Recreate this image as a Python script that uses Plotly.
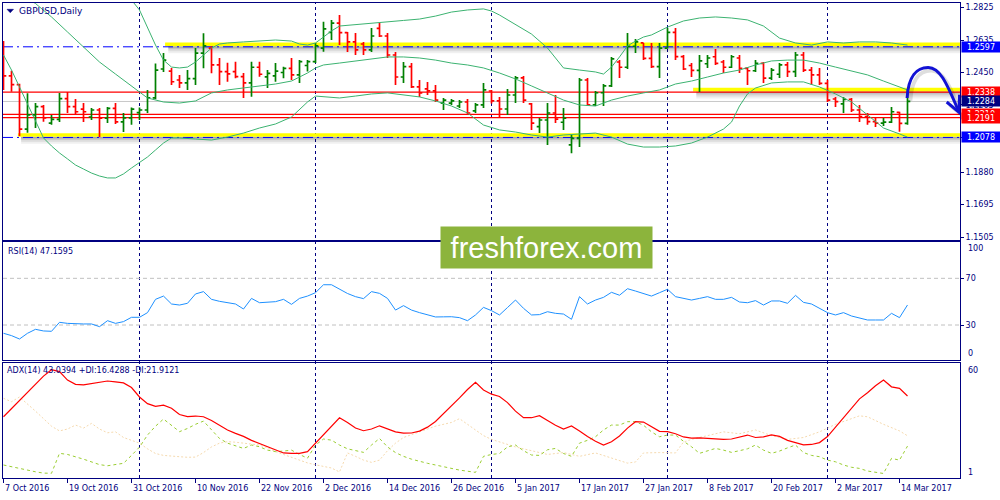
import plotly.graph_objects as go
import pandas as pd

# ---------------- data ----------------
dates = pd.bdate_range("2016-10-07", periods=114)
bars = list(range(len(dates)))

opens = [1.2615,1.2430,1.2380,1.2126,1.2207,1.2254,1.2160,1.2182,1.2300,1.2254,
 1.2240,1.2195,1.2235,1.2188,1.2245,1.2167,1.2190,1.2220,1.2235,1.2304,
 1.2470,1.2458,1.2407,1.2390,1.2415,1.2561,1.2590,1.2493,1.2455,1.2455,
 1.2426,1.2390,1.2480,1.2425,1.2430,1.2450,1.2474,1.2436,1.2490,1.2512,
 1.2590,1.2680,1.2733,1.2678,1.2625,1.2613,1.2579,1.2703,1.2659,1.2550,
 1.2424,1.2483,1.2367,1.2356,1.2345,1.2275,1.2275,1.2258,1.2281,1.2230,
 1.2264,1.2344,1.2287,1.2241,1.2321,1.2419,1.2270,1.2140,1.2178,1.2218,
 1.2165,1.2035,1.2073,1.2407,1.2264,1.2334,1.2373,1.2510,1.2480,1.2600,
 1.2619,1.2531,1.2484,1.2590,1.2680,1.2541,1.2490,1.2462,1.2500,1.2540,
 1.2510,1.2480,1.2533,1.2474,1.2460,1.2502,1.2418,1.2440,1.2493,1.2455,
 1.2550,1.2464,1.2436,1.2388,1.2298,1.2270,1.2296,1.2235,1.2197,1.2169,
 1.2160,1.2166,1.2221,1.2159]
highs = [1.2630,1.2460,1.2385,1.2331,1.2275,1.2264,1.2207,1.2332,1.2338,1.2298,
 1.2275,1.2246,1.2246,1.2252,1.2275,1.2218,1.2250,1.2250,1.2350,1.2502,
 1.2562,1.2476,1.2436,1.2464,1.2590,1.2674,1.2600,1.2533,1.2506,1.2512,
 1.2447,1.2512,1.2512,1.2464,1.2504,1.2483,1.2533,1.2521,1.2521,1.2619,
 1.2741,1.2750,1.2779,1.2682,1.2676,1.2625,1.2705,1.2733,1.2676,1.2567,
 1.2510,1.2504,1.2407,1.2396,1.2378,1.2304,1.2298,1.2292,1.2298,1.2275,
 1.2390,1.2350,1.2310,1.2355,1.2430,1.2430,1.2275,1.2189,1.2275,1.2321,
 1.2246,1.2092,1.2418,1.2418,1.2344,1.2384,1.2539,1.2521,1.2676,1.2642,
 1.2619,1.2619,1.2619,1.2705,1.2705,1.2550,1.2504,1.2550,1.2550,1.2584,
 1.2521,1.2550,1.2550,1.2481,1.2521,1.2510,1.2476,1.2504,1.2510,1.2567,
 1.2567,1.2481,1.2476,1.2407,1.2310,1.2310,1.2304,1.2264,1.2218,1.2195,
 1.2189,1.2252,1.2225,1.2350]
lows = [1.2350,1.2340,1.2086,1.2105,1.2132,1.2168,1.2150,1.2166,1.2218,1.2212,
 1.2166,1.2178,1.2080,1.2160,1.2155,1.2109,1.2150,1.2178,1.2218,1.2296,
 1.2453,1.2378,1.2361,1.2350,1.2378,1.2474,1.2445,1.2378,1.2397,1.2417,
 1.2304,1.2311,1.2426,1.2361,1.2397,1.2417,1.2407,1.2390,1.2455,1.2504,
 1.2569,1.2636,1.2607,1.2567,1.2550,1.2550,1.2567,1.2653,1.2533,1.2378,
 1.2390,1.2361,1.2310,1.2321,1.2281,1.2235,1.2264,1.2246,1.2207,1.2218,
 1.2246,1.2273,1.2195,1.2207,1.2275,1.2275,1.2121,1.2103,1.2035,1.2160,
 1.2120,1.1988,1.2023,1.2258,1.2258,1.2258,1.2367,1.2418,1.2470,1.2561,
 1.2521,1.2476,1.2418,1.2588,1.2521,1.2464,1.2424,1.2338,1.2476,1.2493,
 1.2447,1.2476,1.2447,1.2378,1.2453,1.2390,1.2407,1.2418,1.2424,1.2424,
 1.2453,1.2378,1.2378,1.2281,1.2252,1.2218,1.2224,1.2167,1.2150,1.2138,
 1.2144,1.2160,1.2111,1.2150]
closes = [1.2430,1.2380,1.2126,1.2207,1.2254,1.2190,1.2182,1.2300,1.2254,1.2225,
 1.2225,1.2235,1.2188,1.2245,1.2167,1.2190,1.2240,1.2235,1.2304,1.2464,
 1.2521,1.2397,1.2390,1.2415,1.2561,1.2602,1.2493,1.2455,1.2442,1.2426,
 1.2390,1.2480,1.2440,1.2445,1.2458,1.2474,1.2436,1.2512,1.2512,1.2602,
 1.2700,1.2733,1.2678,1.2625,1.2579,1.2579,1.2659,1.2659,1.2550,1.2424,
 1.2483,1.2367,1.2333,1.2345,1.2292,1.2292,1.2287,1.2281,1.2218,1.2264,
 1.2350,1.2287,1.2241,1.2321,1.2419,1.2292,1.2160,1.2178,1.2218,1.2183,
 1.2188,1.2073,1.2407,1.2264,1.2334,1.2373,1.2528,1.2480,1.2600,1.2625,
 1.2531,1.2484,1.2590,1.2680,1.2541,1.2470,1.2462,1.2516,1.2533,1.2502,
 1.2480,1.2540,1.2474,1.2460,1.2502,1.2418,1.2464,1.2493,1.2455,1.2550,
 1.2464,1.2436,1.2388,1.2292,1.2283,1.2296,1.2235,1.2197,1.2169,1.2160,
 1.2166,1.2225,1.2159,1.2284]

bb_up_idx = [0,4,8,12,16,17,18,19,20,21,22,23,24,25,26,27,28,30,32,34,36,37,38,39,40,41,42,
 44,46,48,50,52,54,56,58,60,61,62,63,64,65,66,67,68,69,70,72,74,75,76,77,78,79,80,81,82,83,
 85,87,89,91,93,95,97,99,101,103,105,107,109,111,113]
bb_up = [1.3150,1.3120,1.3060,1.2960,1.2865,1.2808,1.2705,1.2607,1.2521,1.2481,1.2476,1.2481,
 1.2510,1.2550,1.2590,1.2613,1.2619,1.2625,1.2630,1.2636,1.2630,1.2613,1.2607,1.2619,1.2653,
 1.2688,1.2716,1.2725,1.2730,1.2739,1.2748,1.2756,1.2773,1.2796,1.2808,1.2814,1.2802,1.2779,
 1.2751,1.2728,1.2699,1.2670,1.2630,1.2590,1.2533,1.2476,1.2464,1.2453,1.2441,1.2481,1.2539,
 1.2602,1.2630,1.2653,1.2665,1.2688,1.2710,1.2745,1.2762,1.2768,1.2762,1.2751,1.2716,1.2647,
 1.2619,1.2607,1.2625,1.2619,1.2625,1.2625,1.2619,1.2607]
bb_mid_idx = [0,2,4,6,8,10,12,14,16,18,20,22,24,26,28,30,32,34,36,38,39] + list(range(40, 113, 2)) + [113]
bb_mid = [1.2950,1.2900,1.2845,1.2768,1.2682,1.2596,1.2510,1.2441,1.2373,1.2304,1.2281,1.2275,
 1.2287,1.2333,1.2350,1.2361,1.2373,1.2384,1.2401,1.2447,1.2476,
 1.2493,1.2504,1.2516,1.2527,1.2539,1.2539,1.2533,1.2521,1.2504,1.2493,1.2476,1.2447,1.2413,
 1.2373,1.2333,1.2292,1.2264,1.2258,1.2292,1.2315,1.2333,1.2350,1.2384,1.2401,1.2424,1.2447,
 1.2464,1.2493,1.2516,1.2521,1.2521,1.2504,1.2481,1.2458,1.2436,1.2401,1.2367,1.2350]
bb_low_idx = [0,1,2,3,4,5,6,7,8,9,10,11,12,13,14,15,16,17,18,19,20,21,22,24,26,28,30,32,34,36,38,
 39,40,42,44,46,48,50,52,54,56,58,60,62,64,66,68,70,72,74,76,78,80,82,84,86,88,90,91,92,93,94,
 96,98,100,102,104,106,108,110,112,113]
bb_low = [1.2550,1.2464,1.2367,1.2270,1.2172,1.2075,1.2029,1.1989,1.1955,1.1920,1.1897,1.1874,
 1.1857,1.1846,1.1846,1.1869,1.1903,1.1932,1.1966,1.2006,1.2046,1.2075,1.2075,1.2069,1.2063,
 1.2080,1.2103,1.2132,1.2155,1.2195,1.2281,1.2315,1.2310,1.2304,1.2315,1.2327,1.2333,1.2321,
 1.2310,1.2287,1.2258,1.2218,1.2149,1.2121,1.2109,1.2092,1.2080,1.2092,1.2098,1.2103,1.2080,
 1.2040,1.2023,1.2023,1.2029,1.2046,1.2080,1.2126,1.2166,1.2258,1.2327,1.2361,1.2390,1.2396,
 1.2396,1.2367,1.2327,1.2281,1.2207,1.2132,1.2098,1.2080]

rsi = [22.9,20.9,18.0,22.9,26.3,24.9,24.6,32.3,31.4,30.9,30.9,30.9,28.6,33.7,31.4,32.9,36.6,36.6,
 40.6,52.0,54.8,48.0,47.1,48.6,56.6,58.6,52.0,50.3,49.4,48.0,43.7,52.8,49.1,49.5,50.0,52.0,47.7,
 52.8,54.8,57.7,64.5,64.5,60.5,57.0,54.3,52.6,58.6,57.1,52.8,42.8,46.6,42.8,40.6,38.8,36.9,37.0,
 37.1,36.3,33.7,38.6,45.1,42.3,38.6,45.0,51.4,44.3,38.6,38.9,41.4,40.0,39.4,34.9,54.3,48.0,51.4,
 53.7,58.0,55.5,61.1,59.1,57.1,54.8,57.7,60.6,54.3,52.6,51.4,52.8,54.3,52.0,52.0,53.7,49.7,49.1,
 50.9,47.1,50.6,50.6,48.6,55.4,49.4,48.0,44.3,40.6,38.6,40.6,37.7,35.7,34.3,34.3,34.3,40.0,36.3,
 47.1595]

adx = [32.0,36.3,40.6,45.0,49.3,53.6,57.0,56.0,51.5,49.2,48.9,49.5,50.3,51.0,50.5,50.0,47.5,42.5,
 39.0,37.5,38.2,36.5,33.2,32.1,32.4,32.0,30.0,27.5,25.0,23.2,21.6,19.5,17.8,16.2,14.3,12.8,12.6,
 12.6,13.5,18.0,22.5,27.0,31.5,29.0,26.0,24.6,25.5,27.2,25.6,24.0,23.3,23.4,24.4,26.5,29.5,33.5,
 37.5,42.0,46.5,50.3,46.2,44.0,42.8,39.5,35.0,31.5,31.5,32.6,30.0,27.5,25.5,27.1,24.5,21.5,19.0,
 17.0,18.7,21.8,26.0,29.4,29.2,26.9,24.3,24.1,23.0,21.3,20.7,20.8,20.6,20.0,20.0,20.2,21.2,22.3,
 21.0,21.3,22.4,21.6,19.5,18.5,17.1,17.3,18.3,21.5,26.5,31.5,36.5,41.5,44.8,48.5,51.5,47.9,47.1,
 43.0394]

pdi_idx = [0,2,4,5,6,7,8,10,12,13,15,16,17,18,19,20,21,22,23,24,25,26,27,28,29,30,31,32,33,34,35,
 36,37,38,39,40,41,42,43,44,45,46,47,48,49,50,51,53,55,57,59,60,61,62,63,64,65,66,67,68,69,70,71,
 72,73,74,75,76,77,78,79,80,81,82,83,84,85,86,87,88,89,90,91,92,93,94,95,96,97,98,99,100,101,102,
 103,104,105,106,107,108,109,110,111,112,113]
pdi = [6.4,4.4,2.8,2.1,2.0,12.6,12.0,9.5,6.6,6.0,7.3,11.5,15.9,22.3,27.0,30.8,27.6,24.1,25.8,28.0,
 29.7,25.0,20.5,18.0,16.5,15.2,17.0,16.1,14.3,13.5,13.8,14.3,12.0,10.0,17.0,20.2,19.6,17.0,15.0,
 14.0,13.1,17.0,20.5,16.0,13.0,11.0,9.5,7.3,5.5,3.7,2.5,11.0,12.0,12.5,16.0,17.0,14.0,11.7,11.5,
 14.5,15.2,12.5,11.0,18.0,19.5,21.4,25.0,27.6,27.6,29.4,29.4,27.5,24.0,21.4,22.3,22.3,19.0,16.1,
 12.6,14.0,15.2,14.3,13.1,14.0,15.0,17.0,14.3,12.6,13.8,15.5,17.0,13.0,11.5,10.8,9.0,8.1,6.4,5.2,
 4.6,3.2,2.5,1.9,9.9,9.0,16.4288]
mdi_idx = [0,1,2,3,4,5,6,7,8,9,10,11,12,13,14,15,16,17,18,19,20,21,22,23,24,25,26,27,28,29,30,31,
 32,33,34,35,36,37,38,39,40,41,42,43,44,45,46,47,48,49,50,52,54,56,57,58,59,60,61,62,64,66,68,70,
 72,74,76,78,79,80,82,84,85,86,88,90,92,94,96,98,100,102,104,106,107,108,110,112,113]
mdi = [41.8,40.0,42.5,39.0,35.0,31.0,27.0,24.5,25.5,27.6,26.0,28.5,25.5,23.5,24.0,21.0,19.5,18.0,
 15.0,12.5,11.5,11.0,10.8,10.5,10.6,13.0,16.0,18.0,18.8,18.5,18.0,17.5,17.0,15.5,13.5,12.0,10.5,
 9.0,7.5,6.5,5.5,4.8,2.7,12.8,11.0,9.0,7.8,9.0,14.0,18.0,21.0,24.0,27.0,29.0,31.0,28.0,25.0,22.0,
 20.0,18.6,16.0,14.0,12.0,13.0,11.0,12.8,10.0,7.4,8.0,12.8,13.0,12.8,18.6,20.0,22.0,24.0,23.0,
 25.0,22.0,20.0,21.0,24.0,28.0,31.0,32.5,32.0,28.0,24.5,21.9121]

price_ticks = [1.2825, 1.2635, 1.2450, 1.2265, 1.2075, 1.1880, 1.1695, 1.1505]
blue_levels = [1.2597, 1.2078]
red_levels = [1.2338, 1.2210, 1.2191]
bid_level = 1.2284
yellow_bands = [(1.2597, 20.2), (1.2078, 1.8), (1.2338, 86.2)]   # level, first bar

# ---------------- styling ----------------
NAVY = "#000080"
FONT = "DejaVu Sans"
XR = [-0.0625, 119.5625]
YR = [1.14905, 1.28479]
PPX = (YR[1] - YR[0]) / 237.0


def px(x):
    return (x - 3) / 957.0


def py(y):
    return (478 - y) / 475.0


fig = go.Figure()
fig.add_trace(go.Ohlc(x=bars, open=opens, high=highs, low=lows, close=closes,
                      increasing=dict(line=dict(color="#008000", width=1.7)),
                      decreasing=dict(line=dict(color="#ff0000", width=1.7)),
                      tickwidth=0.35, xaxis="x", yaxis="y", hoverinfo="skip"))
for xs, ys in [(bb_up_idx, bb_up), (bb_mid_idx, bb_mid), (bb_low_idx, bb_low)]:
    fig.add_trace(go.Scatter(x=xs, y=ys, mode="lines", line=dict(color="#3cb371", width=1),
                             xaxis="x", yaxis="y", hoverinfo="skip"))
fig.add_trace(go.Scatter(x=bars, y=rsi, mode="lines", line=dict(color="#1e90ff", width=1),
                         xaxis="x2", yaxis="y2", hoverinfo="skip"))
fig.add_trace(go.Scatter(x=mdi_idx, y=mdi, mode="lines", line=dict(color="#f5d9ae", width=1, dash="2px,2px"),
                         xaxis="x3", yaxis="y3", hoverinfo="skip"))
fig.add_trace(go.Scatter(x=pdi_idx, y=pdi, mode="lines", line=dict(color="#9acd32", width=1, dash="3px,3px"),
                         xaxis="x3", yaxis="y3", hoverinfo="skip"))
fig.add_trace(go.Scatter(x=bars, y=adx, mode="lines", line=dict(color="#ff0000", width=1.2),
                         xaxis="x3", yaxis="y3", hoverinfo="skip"))

shapes = []
# month separators
seps = [i for i in range(1, len(dates)) if dates[i].month != dates[i - 1].month]
for s in seps:
    shapes.append(dict(type="line", xref="x", yref="paper", x0=s, x1=s, y0=0, y1=1, layer="below",
                       line=dict(color=NAVY, width=1, dash="3px,3px")))
# RSI levels
for lv in (30, 70):
    shapes.append(dict(type="line", xref="x2", yref="y2", x0=XR[0], x1=XR[1], y0=lv, y1=lv, layer="below",
                       line=dict(color="#c0c0c0", width=1, dash="4px,3px")))
# yellow support/resistance bands with shadow
for lvl, start in yellow_bands:
    b0 = lvl + 0.6 * PPX
    b1 = lvl + 4.2 * PPX
    for depth, op in ((7, 0.06), (5, 0.08), (3, 0.12), (1.5, 0.15)):
        shapes.append(dict(type="rect", xref="x", yref="y", x0=start + 0.4, x1=XR[1],
                           y0=b0 - depth * PPX, y1=b0, fillcolor="black", opacity=op,
                           line=dict(width=0), layer="below"))
    shapes.append(dict(type="rect", xref="x", yref="y", x0=start, x1=XR[1], y0=b0, y1=b1,
                       fillcolor="#ffff00", line=dict(width=0), layer="below"))
for lvl in blue_levels:
    shapes.append(dict(type="line", xref="x", yref="y", x0=XR[0], x1=XR[1], y0=lvl, y1=lvl, layer="below",
                       line=dict(color="#0000ff", width=1, dash="10px,4px,2px,4px")))
shapes.append(dict(type="line", xref="x", yref="y", x0=XR[0], x1=XR[1], y0=bid_level, y1=bid_level,
                   layer="below", line=dict(color="#c8c8c8", width=1)))
for lvl in red_levels:
    shapes.append(dict(type="line", xref="x", yref="y", x0=XR[0], x1=XR[1], y0=lvl, y1=lvl, layer="below",
                       line=dict(color="#ff0000", width=1.2)))

# hand drawn forecast arrow
curve = [(112.95, 1.2304), (113.1, 1.2430), (114.2, 1.2480), (115.6, 1.2479),
         (117.0, 1.2478), (117.8, 1.2400), (119.35, 1.2232)]
head = [(117.9, 1.2281), (119.44, 1.2222), (119.5, 1.2322)]


def arrow_paths(dx, dy):
    c = [(a + dx, b + dy) for a, b in curve]
    h = [(a + dx, b + dy) for a, b in head]
    p1 = "M {},{} C {},{} {},{} {},{} C {},{} {},{} {},{}".format(*[v for pt in c for v in pt])
    p2 = "M {},{} L {},{} L {},{}".format(*[v for pt in h for v in pt])
    return p1, p2


for dx, dy, col, w in ((0.4, -3.0 * PPX, "rgba(0,0,0,0.13)", 4), (0, 0, "#1212d4", 3)):
    for p in arrow_paths(dx, dy):
        shapes.append(dict(type="path", xref="x", yref="y", path=p, layer="above",
                           fillcolor="rgba(0,0,0,0)", line=dict(color=col, width=w)))
# title triangle
shapes.append(dict(type="path", xref="paper", yref="paper", layer="above",
                   path="M {},{} L {},{} L {},{} Z".format(px(7), py(9.3), px(13.5), py(9.3), px(10.25), py(12.8)),
                   fillcolor=NAVY, line=dict(color=NAVY, width=0.5)))

ann = []
small = dict(family=FONT, size=8, color=NAVY)
ann.append(dict(text="GBPUSD,Daily", xref="paper", yref="paper", x=px(17), y=py(11), xanchor="left",
                yanchor="middle", showarrow=False, font=dict(family=FONT, size=9, color=NAVY)))
ann.append(dict(text="RSI(14) 47.1595", xref="paper", yref="paper", x=px(6), y=py(251), xanchor="left",
                yanchor="middle", showarrow=False, font=small))
ann.append(dict(text="ADX(14) 43.0394 +DI:16.4288 -DI:21.9121", xref="paper", yref="paper", x=px(5),
                y=py(370), xanchor="left", yanchor="middle", showarrow=False, font=small))
for txt, yy in (("100", 249), ("0", 353), ("60", 370), ("1", 472)):
    ann.append(dict(text=txt, xref="paper", yref="paper", x=px(966), y=py(yy), xanchor="left",
                    yanchor="middle", showarrow=False, font=small))
# date labels
for i in range(0, len(dates), 8):
    d = dates[i]
    ann.append(dict(text="{} {}".format(d.day, d.strftime("%b %Y")), xref="x3", yref="paper", x=i,
                    y=py(489), xanchor="left", yanchor="middle", showarrow=False, xshift=-1, font=small))
# price labels on the right axis
for lvl, col in ((1.2210, "#ff0000"), (1.2597, "#0000ff"), (1.2338, "#ff0000"), (bid_level, "#000080"),
                 (1.2191, "#ff0000"), (1.2078, "#0000ff")):
    ann.append(dict(text="{:.4f}".format(lvl), xref="paper", yref="y", x=px(961), y=lvl, xanchor="left",
                    yanchor="middle", showarrow=False, bgcolor=col, width=38, height=10, borderpad=0,
                    align="center", font=dict(family=FONT, size=8, color="white")))
# logo
ann.append(dict(text="freshforex.com", xref="paper", yref="paper", x=px(546.5), y=py(247.5),
                xanchor="center", yanchor="middle", showarrow=False, bgcolor="#8cb43c", width=211,
                height=41, borderpad=0, font=dict(family="Liberation Sans", size=29, color="white")))

axis_common = dict(showgrid=False, zeroline=False, showline=True, mirror=True, linecolor=NAVY, linewidth=1)
fig.update_layout(
    width=1000, height=500, margin=dict(l=3, r=40, t=3, b=22),
    paper_bgcolor="white", plot_bgcolor="white", showlegend=False, hovermode=False,
    xaxis=dict(domain=[0, 1], range=XR, anchor="y", showticklabels=False, ticks="",
               rangeslider=dict(visible=False), **axis_common),
    xaxis2=dict(domain=[0, 1], range=XR, anchor="y2", showticklabels=False, ticks="", **axis_common),
    xaxis3=dict(domain=[0, 1], range=XR, anchor="y3", showticklabels=False, ticks="outside",
                tickvals=list(range(0, len(dates), 8)), ticklen=4, tickcolor=NAVY, **axis_common),
    yaxis=dict(domain=[0.501, 1.0], range=YR, side="right", tickmode="array", tickvals=price_ticks,
               ticktext=["{:.4f}".format(v) for v in price_ticks],
               ticks="outside", ticklen=3, tickcolor=NAVY, tickfont=small, **axis_common),
    yaxis2=dict(domain=[0.2474, 0.4958], range=[-0.4, 100.7], side="right", tickmode="array",
                tickvals=[30, 70], ticktext=["30", "70"],
                ticks="outside", ticklen=3, tickcolor=NAVY, tickfont=small, **axis_common),
    yaxis3=dict(domain=[0.0, 0.2427], range=[-0.5, 60.7], side="right", tickvals=[],
                showticklabels=False, **axis_common),
    shapes=shapes, annotations=ann,
)

fig.write_html("out.html", config={"displayModeBar": False, "staticPlot": True},
               post_script="document.body.style.margin='0';document.body.style.overflow='hidden';")
